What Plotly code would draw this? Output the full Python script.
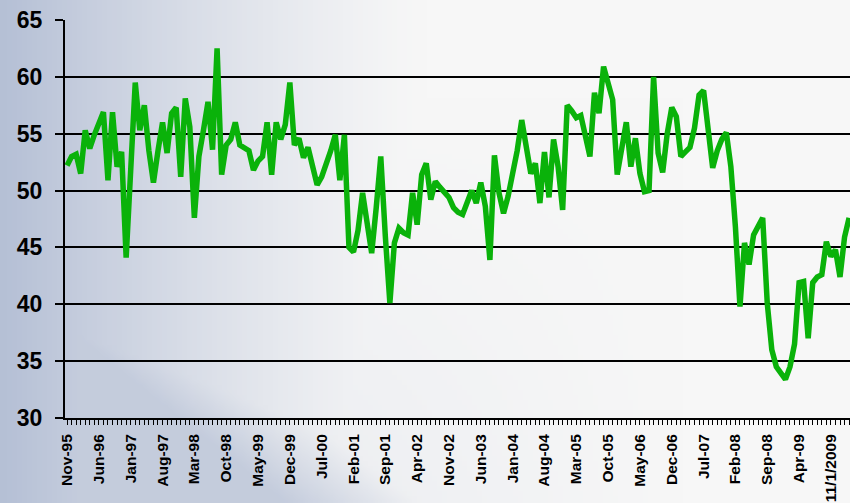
import base64, struct, zlib
import numpy as np
import plotly.graph_objects as go

# ---------------- data (monthly, starting Nov-95) ----------------
start_label = "Nov-95"
values = [
    52.2, 53.0, 53.2, 51.5, 55.3, 53.7, 54.9, 55.8, 56.9, 50.9,   # m0-9
    56.9, 52.1, 53.4, 44.1, 52.0, 59.5, 55.3, 57.5, 53.5, 50.7,   # m10-19
    53.5, 56.0, 53.3, 56.8, 57.3, 51.2, 58.1, 55.6, 47.6, 53.0,   # m20-29
    55.3, 57.8, 53.6, 62.5, 51.4, 54.0, 54.5, 56.0, 54.0, 53.7,   # m30-39
    53.5, 51.8, 52.6, 53.0, 56.0, 51.4, 56.0, 54.5, 55.8, 59.5,   # m40-49
    54.0, 54.6, 52.9, 53.8, 52.0, 50.5, 51.2, 52.2, 53.5, 54.9,   # m50-59
    50.9, 54.9, 45.0, 44.6, 46.5, 49.8, 47.0, 44.5, 48.5, 53.0,   # m60-69
    46.0, 40.1, 45.4, 46.7, 46.3, 46.1, 49.8, 47.0, 51.4, 52.4,   # m70-79
    49.2, 50.8, 50.3, 49.8, 49.4, 48.5, 48.1, 47.9, 49.0, 50.0,   # m80-89
    48.9, 50.7, 48.6, 43.9, 53.1, 49.8, 48.0, 49.5, 51.5, 53.5,   # m90-99
    56.2, 53.5, 51.5, 52.4, 48.9, 53.4, 49.4, 54.5, 52.1, 48.3,   # m100-109
    57.5, 57.0, 56.4, 56.6, 55.0, 53.0, 58.6, 56.8, 60.9, 59.5,   # m110-119
    58.0, 51.4, 53.5, 56.0, 52.1, 54.6, 51.5, 49.9, 50.0, 60.0,   # m120-129
    53.3, 51.6, 55.0, 57.3, 56.5, 53.0, 53.4, 53.8, 55.5, 58.4,   # m130-139
    58.8, 55.5, 52.0, 53.5, 54.5, 55.1, 52.1, 46.8, 39.8, 45.4,   # m140-149
    43.5, 46.1, 47.0, 47.6, 40.1, 36.0, 34.5, 34.0, 33.4, 34.5,   # m150-159
    36.5, 41.9, 42.0, 37.0, 41.9, 42.4, 42.6, 45.5, 44.2, 44.8,   # m160-169
    42.4, 45.9, 47.6,                                             # m170-172
]
tick_labels = [
    "Nov-95", "Jun-96", "Jan-97", "Aug-97", "Mar-98", "Oct-98", "May-99",
    "Dec-99", "Jul-00", "Feb-01", "Sep-01", "Apr-02", "Nov-02", "Jun-03",
    "Jan-04", "Aug-04", "Mar-05", "Oct-05", "May-06", "Dec-06", "Jul-07",
    "Feb-08", "Sep-08", "Apr-09", "11/1/2009",
]
label_step = 7          # months between labels
y_ticks = [30, 35, 40, 45, 50, 55, 60, 65]

months = list(range(len(values)))
tick_positions = [i * label_step for i in range(len(tick_labels))]

# ---------------- background gradient image ----------------
W, H = 850, 503
gw, gh = 170, 100
u = (np.arange(gw) + 0.5) / gw
v = (np.arange(gh) + 0.5) / gh
U, V = np.meshgrid(u, v)
w1 = np.clip(1 - U / 0.5, 0, 1) ** 1.3 * 0.8
s = V - 0.457 - 1.35 * (U - 0.118)
w2 = np.clip(s * 4.0, 0, 1) * 0.62
w3 = np.clip(1 - U / 0.8, 0, 1) * np.clip((V - 0.2) / 0.8, 0, 1) * 0.25
wgt = np.maximum(np.maximum(w1, w2), w3)
white = np.array([247, 247, 247], dtype=float)
blue = np.array([165, 178, 205], dtype=float)
img = white[None, None, :] * (1 - wgt[..., None]) + blue[None, None, :] * wgt[..., None]
img = np.clip(img, 0, 255).astype(np.uint8)


def png_bytes(arr):
    h, w, _ = arr.shape
    raw = b"".join(b"\x00" + arr[r].tobytes() for r in range(h))

    def chunk(t, d):
        return struct.pack(">I", len(d)) + t + d + struct.pack(">I", zlib.crc32(t + d) & 0xFFFFFFFF)

    return (b"\x89PNG\r\n\x1a\n"
            + chunk(b"IHDR", struct.pack(">IIBBBBB", w, h, 8, 2, 0, 0, 0))
            + chunk(b"IDAT", zlib.compress(raw, 9))
            + chunk(b"IEND", b""))


bg_uri = "data:image/png;base64," + base64.b64encode(png_bytes(img)).decode()

# ---------------- figure ----------------
fig = go.Figure()
fig.add_trace(go.Scatter(
    x=months, y=values, mode="lines",
    line=dict(color="#0ab20a", width=5.5),
    hoverinfo="skip", showlegend=False,
))

left, bottom, top = 65, 85, 20
fig.update_layout(
    width=W, height=H,
    margin=dict(l=0, r=0, t=0, b=0, pad=0),
    paper_bgcolor="#f7f7f7",
    plot_bgcolor="rgba(0,0,0,0)",
    images=[dict(source=bg_uri, xref="paper", yref="paper", x=0, y=1,
                 sizex=1, sizey=1, sizing="stretch", layer="below")],
    font=dict(family="Liberation Sans, Arial, sans-serif", color="black"),
    xaxis=dict(
        domain=[left / W, 1],
        range=[-0.45, 172.2],
        tickmode="array", tickvals=tick_positions, ticktext=tick_labels,
        tickangle=-90,
        tickfont=dict(size=15.5, family="Liberation Sans, Arial", weight="bold"),
        ticks="outside", ticklen=5, tickwidth=1, tickcolor="black",
        ticklabelstandoff=3,
        minor=dict(tickmode="array", tickvals=months, ticks="outside",
                   ticklen=5, tickwidth=1, tickcolor="black", showgrid=False),
        showgrid=False, zeroline=False,
        showline=True, linecolor="black", linewidth=2,
        automargin=False, fixedrange=True,
    ),
    yaxis=dict(
        domain=[bottom / H, 1 - top / H],
        range=[30, 65],
        tickvals=y_ticks,
        tickfont=dict(size=23, family="Liberation Sans, Arial", weight="bold"),
        ticks="outside", ticklen=8, tickwidth=2, tickcolor="black",
        ticklabelstandoff=8,
        showgrid=True, gridcolor="black", gridwidth=2,
        zeroline=False,
        showline=True, linecolor="black", linewidth=2,
        automargin=False, fixedrange=True,
    ),
)

fig.write_html(
    "out.html",
    config={"displayModeBar": False},
    post_script="document.body.style.margin='0';document.body.style.overflow='hidden';",
)
